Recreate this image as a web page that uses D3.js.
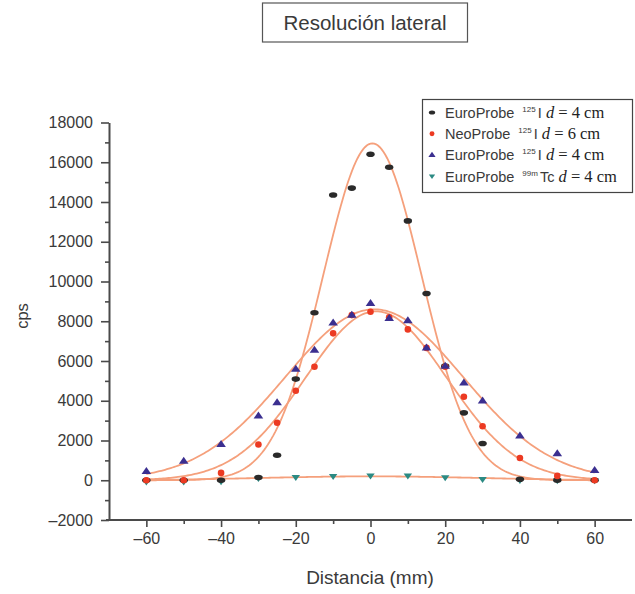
<!DOCTYPE html>
<html>
<head>
<meta charset="utf-8">
<script src="https://cdn.jsdelivr.net/npm/d3@7"></script>
<style>
  html, body { margin: 0; padding: 0; background: #fff; }
  svg { display: block; }
  .sans { font-family: "Liberation Sans", Arial, Helvetica, sans-serif; fill: #3a3a3a; }
  .serif { font-family: "Liberation Serif", "Times New Roman", serif; fill: #222; }
</style>
</head>
<body>
<svg id="chart" width="635" height="594"></svg>
<script>
// Lateral resolution profiles: counts per second vs. lateral distance
const distances = [-60, -50, -40, -30, -25, -20, -15, -10, -5, 0, 5, 10, 15, 20, 25, 30, 40, 50, 60];

const euroI125_4 = [0, 0, 0, 135, 1260, 5090, 8430, 14350, 14700, 16400, 15750, 13050, 9400, 5740, 3390, 1850, 50, 0, 0];
const neoI125_6 = [0, 0, 370, 1800, 2890, 4500, 5710, 7390, 8310, 8480, 8200, 7590, 6660, 5710, 4200, 2720, 1120, 220, 0];
const euroI125_4b = [450, 970, 1810, 3240, 3910, 5590, 6550, 7920, 8310, 8900, 8150, 8030, 6660, 5740, 4900, 4000, 2230, 1340, 500];
const euroTc99m_4 = [-80, -80, -60, 100, null, 150, null, 200, null, 220, null, 220, null, 140, null, 50, 0, -20, -20];

const seriesNames = ["euroI125_4", "neoI125_6", "euroI125_4b", "euroTc99m_4"];
const seriesValues = [euroI125_4, neoI125_6, euroI125_4b, euroTc99m_4];

// Gaussian fit parameters per series: y = offset + amplitude * exp(-(x - center)^2 / (2 width^2))
const fitAmplitude = [16950, 8500, 8600, 210];
const fitCenter = [0.5, 1.5, 1, 0];
const fitWidth = [13.2, 18.9, 23.7, 30];
const fitOffset = [0, 0, 0, -15];

const xTicks = [-60, -40, -20, 0, 20, 40, 60];
const xMinorTicks = [-50, -30, -10, 10, 30, 50];
const yTicks = [-2000, 0, 2000, 4000, 6000, 8000, 10000, 12000, 14000, 16000, 18000];
const yMinorTicks = d3.range(-1000, 18000, 2000);

const svg = d3.select("#chart");

const x = d3.scaleLinear().domain([-70, 70]).range([109, 632]);
const y = d3.scaleLinear().domain([-2000, 18000]).range([520, 122.5]);

const fmt = v => (v < 0 ? "\u2013" + Math.abs(v) : String(v));
const axisColor = "#4a4a4a";

// Title box
svg.append("rect").attr("x", 262.5).attr("y", 3).attr("width", 205).attr("height", 39)
  .attr("fill", "none").attr("stroke", "#555").attr("stroke-width", 1.2);
svg.append("text").attr("class", "sans").attr("x", 365).attr("y", 30)
  .attr("text-anchor", "middle").attr("font-size", 20.5).text("Resolución lateral");

// Axes
const xAxis = svg.append("g").attr("transform", `translate(0,${y(-2000)})`)
  .call(d3.axisBottom(x).tickValues(xTicks).tickFormat(fmt).tickSize(7).tickPadding(6).tickSizeOuter(0));
svg.append("g").attr("transform", `translate(0,${y(-2000)})`)
  .call(d3.axisBottom(x).tickValues(xMinorTicks).tickFormat("").tickSize(4).tickSizeOuter(0))
  .call(g => g.select(".domain").remove());

const yAxis = svg.append("g").attr("transform", `translate(${x(-70)},0)`)
  .call(d3.axisLeft(y).tickValues(yTicks).tickFormat(fmt).tickSize(8).tickPadding(8).tickSizeOuter(0));
svg.append("g").attr("transform", `translate(${x(-70)},0)`)
  .call(d3.axisLeft(y).tickValues(yMinorTicks).tickFormat("").tickSize(4).tickSizeOuter(0))
  .call(g => g.select(".domain").remove());

svg.selectAll(".domain").attr("stroke", axisColor).attr("stroke-width", 2);
svg.selectAll(".tick line").attr("stroke", axisColor).attr("stroke-width", 1.6);
svg.selectAll(".tick text").attr("class", "sans").attr("font-size", 16).attr("fill", "#3a3a3a");
xAxis.select(".domain").attr("d", `M${x(-70) - 3},0H${x(70)}`);

// Axis titles
svg.append("text").attr("class", "sans").attr("font-size", 19)
  .attr("x", 370).attr("y", 584).attr("text-anchor", "middle").text("Distancia (mm)");
svg.append("text").attr("class", "sans").attr("font-size", 16.5)
  .attr("transform", "translate(28,316) rotate(-90)").attr("text-anchor", "middle").text("cps");

// Fitted curves
const curveColor = "#f5a07c";
const line = d3.line().x(d => x(d[0])).y(d => y(d[1])).curve(d3.curveLinear);
const xs = d3.range(-60, 60.01, 0.5);
seriesNames.forEach((name, i) => {
  const pts = xs.map(v => [v, fitOffset[i] + fitAmplitude[i] *
    Math.exp(-((v - fitCenter[i]) ** 2) / (2 * fitWidth[i] ** 2))]);
  svg.append("path").datum(pts).attr("d", line)
    .attr("fill", "none").attr("stroke", curveColor).attr("stroke-width", 1.8);
});

// Marker drawing
const markerColors = ["#2a2a2a", "#ec3a22", "#3b2f90", "#2b8a83"];
function drawMarker(g, i, cx, cy, s) {
  s = s || 1;
  if (i === 0) {
    g.append("ellipse").attr("cx", cx).attr("cy", cy).attr("rx", 4.2 * s).attr("ry", 2.8 * s)
      .attr("fill", markerColors[0]);
  } else if (i === 1) {
    g.append("circle").attr("cx", cx).attr("cy", cy).attr("r", 3.3 * s).attr("fill", markerColors[1]);
  } else if (i === 2) {
    const h = 7 * s, w = 4.8 * s;
    g.append("path").attr("d", `M${cx},${cy - h * 0.62}L${cx + w},${cy + h * 0.38}L${cx - w},${cy + h * 0.38}Z`)
      .attr("fill", markerColors[2]);
  } else {
    const h = 6 * s, w = 4.2 * s;
    g.append("path").attr("d", `M${cx},${cy + h * 0.62}L${cx + w},${cy - h * 0.38}L${cx - w},${cy - h * 0.38}Z`)
      .attr("fill", markerColors[3]);
  }
}

// Data points
const pointsLayer = svg.append("g");
[3, 0, 1, 2].forEach(i => {
  seriesValues[i].forEach((v, k) => {
    if (v === null) return;
    drawMarker(pointsLayer, i, x(distances[k]), y(v));
  });
});

// Legend
const legend = svg.append("g");
legend.append("rect").attr("x", 422.5).attr("y", 99.5).attr("width", 210).attr("height", 93)
  .attr("fill", "#fff").attr("stroke", "#444").attr("stroke-width", 1.2);
const legendIsotope = ["125", "125", "125", "99m"];
const legendElement = ["I", "I", "I", "Tc"];
const legendProbe = ["EuroProbe", "NeoProbe", "EuroProbe", "EuroProbe"];
const legendDepth = [4, 6, 4, 4];
seriesNames.forEach((name, i) => {
  const cy = 113 + i * 21.2;
  drawMarker(legend, i, 432, cy - 0.5, 0.75);
  const t = legend.append("text").attr("x", 445).attr("y", cy + 5).attr("font-size", 14.5);
  t.append("tspan").attr("class", "sans").text(legendProbe[i] + " ");
  t.append("tspan").attr("class", "sans").attr("font-size", 8).attr("dy", -6).attr("dx", 4).text(legendIsotope[i]);
  t.append("tspan").attr("class", "sans").attr("dy", 6).attr("dx", 2).text(legendElement[i]);
  t.append("tspan").attr("class", "serif").attr("font-size", 16.5).attr("font-style", "italic")
    .text(" d");
  t.append("tspan").attr("class", "serif").attr("font-size", 16.5).text(" = " + legendDepth[i] + " cm");
});
</script>
</body>
</html>
